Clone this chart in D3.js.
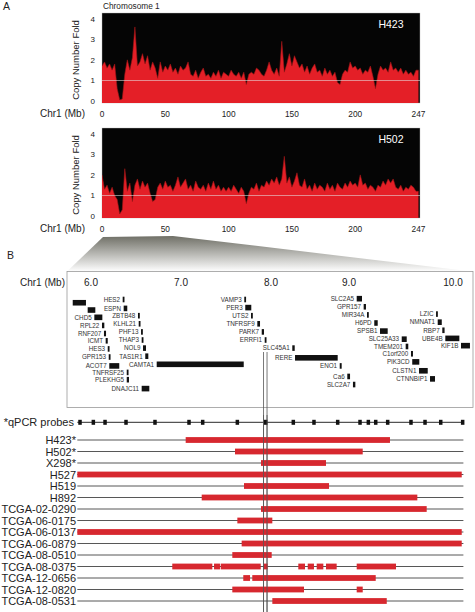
<!DOCTYPE html>
<html><head><meta charset="utf-8">
<script src="https://cdn.jsdelivr.net/npm/d3@7"></script>
<style>body{margin:0;background:#fff;} svg{display:block;font-family:Arial,"Liberation Sans",sans-serif;}</style>
</head><body><svg id="c" width="475" height="612"></svg>
<script>
// ---------- data ----------
const chrTicks = [0, 50, 100, 150, 200, 250];
const chrTickLabels = ["0", "50", "100", "150", "200", "247"];
const cnTicks = [0, 1, 2, 3, 4];
const chrStepMb = 2;
const h423 = [1.7,1.9,1.6,1.8,1.5,1.8,0.6,0.05,0.1,1.3,2.0,1.5,2.1,3.6,1.7,1.9,2.3,1.8,2.2,1.5,1.9,1.6,1.1,1.9,1.4,1.7,1.5,1.8,1.4,1.6,1.3,1.7,1.5,1.6,1.9,1.3,1.2,1.5,1.1,1.4,1.6,1.2,1.3,1.1,1.4,1.2,1.5,1.1,1.4,1.3,1.2,1.5,1.3,1.2,1.4,1.1,1.4,0.8,1.3,1.4,1.3,1.6,1.5,1.3,1.2,1.5,1.9,1.5,1.3,1.6,1.2,2.9,1.4,1.8,2.3,1.7,2.2,1.9,1.6,1.8,1.4,1.7,1.3,1.6,1.8,1.4,1.5,1.2,1.6,1.3,1.5,1.2,1.4,0.9,0.8,1.3,1.5,1.4,1.9,1.6,1.7,1.5,1.6,1.3,1.5,1.4,1.7,1.2,0.6,1.3,1.7,1.5,1.6,1.4,1.9,1.5,1.6,1.4,1.6,1.3,1.5,1.3,1.4,1.2,1.5,1.5];
const h502 = [2.0,1.3,1.5,1.1,1.4,1.0,0.8,0.1,0.3,2.3,1.2,1.6,0.7,1.5,1.8,1.3,1.7,1.4,1.6,1.1,0.7,0.8,1.4,1.6,1.3,1.7,1.4,1.5,1.2,1.5,1.9,1.4,1.6,1.8,1.3,1.5,1.2,1.7,1.4,1.3,1.5,1.2,1.6,1.3,1.7,1.3,1.5,1.2,1.4,1.2,1.4,1.2,1.5,1.3,1.1,1.4,1.2,0.6,1.1,1.4,1.3,1.6,1.2,1.5,1.4,1.7,1.5,1.8,1.6,1.9,1.5,1.8,2.9,1.6,1.9,1.4,1.7,2.1,1.5,1.4,1.8,1.3,1.5,1.2,1.6,1.3,1.5,1.4,1.2,1.6,1.3,1.5,1.2,1.6,1.4,1.3,1.6,1.4,1.7,1.5,1.6,1.4,2.0,1.5,1.6,1.3,1.5,1.4,1.2,1.5,1.4,1.7,1.5,1.8,1.6,1.8,1.4,1.3,1.5,1.2,1.4,1.3,1.5,1.4,1.2,1.2];
const cellLines = ["H423", "H502"];

const regionTicks = [6, 7, 8, 9, 10];
const regionTickLabels = ["6.0", "7.0", "8.0", "9.0", "10.0"];
const geneNames = ["","","CHD5","RPL22","RNF207","ICMT","HES3","GPR153","ACOT7","TNFRSF25","PLEKHG5","DNAJC11",
  "HES2","ESPN","ZBTB48","KLHL21","PHF13","THAP3","NOL9","TAS1R1","CAMTA1",
  "VAMP3","PER3","UTS2","TNFRSF9","PARK7","ERRFI1","SLC45A1","RERE","ENO1","Ca6","SLC2A7",
  "SLC2A5","GPR157","MIR34A","H6PD","SPSB1","SLC25A33","TMEM201","C1orf200","PIK3CD","CLSTN1","CTNNBIP1",
  "LZIC","NMNAT1","RBP7","UBE4B","KIF1B"];
const geneStart = [5.797,5.963,6.037,6.122,6.144,6.163,6.186,6.197,6.203,6.397,6.397,6.563,
  6.352,6.363,6.522,6.530,6.556,6.563,6.578,6.603,6.730,
  7.703,7.714,7.778,7.848,7.897,7.930,8.273,8.308,8.881,8.978,9.038,
  9.074,9.141,9.173,9.243,9.298,9.507,9.545,9.596,9.608,9.673,9.779,
  9.837,9.853,9.897,9.926,10.077];
const geneEnd = [5.944,6.048,6.126,6.148,6.167,6.186,6.203,6.214,6.314,6.414,6.422,6.648,
  6.370,6.403,6.541,6.548,6.574,6.581,6.611,6.637,7.697,
  7.722,7.781,7.797,7.878,7.922,7.948,8.304,8.855,8.906,9.010,9.061,
  9.125,9.163,9.189,9.276,9.372,9.555,9.570,9.615,9.676,9.757,9.827,
  9.853,9.892,9.919,10.061,10.163];
const geneLane = [0.4,1.3,2.2,3.2,4.2,5.1,6.1,7.1,8.2,9.0,9.9,11.0,
  0,1.1,2,3,4,5,6,7,8,
  0,1,2,3,4,5,6,7.2,8.2,9.5,10.5,
  -0.1,0.9,1.9,2.9,3.9,4.9,5.8,6.7,7.7,8.8,9.8,
  1.8,2.8,3.8,4.8,5.7];

const probeLabel = "*qPCR probes";
const probes = [5.878,6.026,6.156,6.389,6.711,7.089,7.241,7.626,7.941,8.286,8.551,8.855,9.106,9.186,9.257,9.372,9.596,9.731,9.882,10.093];
const regionStart = 5.848, regionEnd = 10.1;
const focusLines = [7.917, 7.956];
const samples = ["H423*","H502*","X298*","H527","H519","H892","TCGA-02-0290","TCGA-06-0175","TCGA-06-0137","TCGA-06-0879","TCGA-08-0510","TCGA-08-0375","TCGA-12-0656","TCGA-12-0820","TCGA-08-0531"];
const gainSegments = [
  [[7.052,9.394]],
  [[7.600,9.132]],
  [[7.889,8.705]],
  [[5.848,10.084]],
  [[7.700,8.744]],
  [[7.230,9.657]],
  [[7.889,9.747]],
  [[7.626,8.017]],
  [[5.848,10.084]],
  [[7.674,10.084]],
  [[7.570,8.009]],
  [[6.903,7.348],[7.367,7.433],[7.441,7.886],[7.922,7.963],[8.350,8.436],[8.471,8.551],[8.586,8.671],[8.705,8.842],[9.074,9.452]],
  [[7.692,7.767],[7.792,9.257]],
  [[7.570,8.423],[9.074,9.132]],
  [[8.017,9.363]]
];

// ---------- drawing ----------
const svg = d3.select("#c");
const txt = "#222";

// Panel labels
svg.append("text").attr("x", 3).attr("y", 9.5).attr("font-size", 10.5).attr("fill", txt).text("A");
svg.append("text").attr("x", 7).attr("y", 258.5).attr("font-size", 10.5).attr("fill", txt).text("B");
svg.append("text").attr("x", 103).attr("y", 8.5).attr("font-size", 8.3).attr("fill", txt).text("Chromosome 1");

// gradient for zoom wedge
const defs = svg.append("defs");
const grad = defs.append("linearGradient").attr("id", "wedge").attr("x1", 0).attr("y1", 0).attr("x2", 0).attr("y2", 1);
grad.append("stop").attr("offset", "0%").attr("stop-color", "#6f6f66");
grad.append("stop").attr("offset", "100%").attr("stop-color", "#ffffff");

const x = d3.scaleLinear().domain([0, 250]).range([102, 418.5]);
const plotL = 102, plotR = 420, plotH = 90;
const panelTops = [13, 128];
const profiles = [h423, h502];

profiles.forEach((vals, k) => {
  const top = panelTops[k];
  const y = d3.scaleLinear().domain([0, 4]).range([top + 88, top + 5.7]);
  const clipId = "clip" + k;
  defs.append("clipPath").attr("id", clipId).append("rect")
    .attr("x", plotL).attr("y", top).attr("width", plotR - plotL).attr("height", plotH);
  svg.append("rect").attr("x", plotL).attr("y", top).attr("width", plotR - plotL).attr("height", plotH)
    .attr("fill", "#050505").attr("stroke", "#bbb").attr("stroke-width", 0.4);
  const g = svg.append("g").attr("clip-path", `url(#${clipId})`);
  const area = d3.area().x((d, i) => x(i * chrStepMb)).y0(top + plotH + 2).y1(d => y(d));
  const line = d3.line().x((d, i) => x(i * chrStepMb)).y(d => y(d));
  g.append("path").datum(vals).attr("d", area).attr("fill", "#e41f27");
  g.append("path").datum(vals).attr("d", line).attr("fill", "none").attr("stroke", "#9c1515").attr("stroke-width", 0.6);
  g.append("line").attr("x1", plotL).attr("x2", plotR).attr("y1", y(1)).attr("y2", y(1))
    .attr("stroke", "#e6e6e6").attr("stroke-width", 0.7).attr("opacity", 0.85);
  // y ticks
  svg.append("g").selectAll("text").data(cnTicks).join("text")
    .attr("x", 95).attr("y", d => y(d) + 3).attr("text-anchor", "end")
    .attr("font-size", 8).attr("fill", txt).text(d => d);
  // y label
  svg.append("text").attr("transform", `translate(79,${top + 47}) rotate(-90)`)
    .attr("text-anchor", "middle").attr("font-size", 9.5).attr("fill", txt).text("Copy Number Fold");
  // x ticks
  svg.append("g").selectAll("text").data(chrTicks).join("text")
    .attr("x", d => x(d)).attr("y", top + 103.5).attr("text-anchor", "middle")
    .attr("font-size", 8.3).attr("fill", txt).text((d, i) => chrTickLabels[i]);
  svg.append("text").attr("x", 85).attr("y", top + 103.5).attr("text-anchor", "end")
    .attr("font-size", 10).attr("fill", txt).text("Chr1 (Mb)");
  // cell line name
  svg.append("text").attr("x", 391).attr("y", top + 14.5).attr("text-anchor", "middle")
    .attr("font-size", 10.5).attr("fill", "#fff").text(cellLines[k]);
});

// zoom wedge
svg.append("path").attr("d", "M103,237 L173,236 L472,271.5 L67,271.5 Z").attr("fill", "url(#wedge)");

// Box B
svg.append("rect").attr("x", 67).attr("y", 271.5).attr("width", 406).attr("height", 136)
  .attr("fill", "none").attr("stroke", "#9a9a9a").attr("stroke-width", 0.8);

const rx = d3.scaleLinear().domain([6, 7, 8, 9, 10]).range([91, 181, 271, 349, 453]);
svg.append("g").selectAll("text").data(regionTicks).join("text")
  .attr("x", d => rx(d)).attr("y", 286).attr("text-anchor", "middle")
  .attr("font-size", 10).attr("fill", txt).text((d, i) => regionTickLabels[i]);
svg.append("text").attr("x", 65).attr("y", 286).attr("text-anchor", "end")
  .attr("font-size", 10).attr("fill", txt).text("Chr1 (Mb)");

const laneY = d3.scaleLinear().domain([0, 11]).range([299.5, 388.6]);
const genes = geneNames.map((n, i) => ({ n, s: geneStart[i], e: geneEnd[i], l: geneLane[i] }));
const gg = svg.append("g");
gg.selectAll("rect").data(genes).join("rect")
  .attr("x", d => rx(d.s)).attr("y", d => laneY(d.l) - 2.8)
  .attr("width", d => Math.max(1.8, rx(d.e) - rx(d.s))).attr("height", 5.6)
  .attr("fill", "#111");
gg.selectAll("text").data(genes.filter(d => d.n)).join("text")
  .attr("x", d => rx(d.s) - 2.6).attr("y", d => laneY(d.l) + 2.3)
  .attr("text-anchor", "end").attr("font-size", 6.3).attr("fill", "#333").text(d => d.n);

// focus lines
svg.append("g").selectAll("line").data(focusLines).join("line")
  .attr("x1", d => rx(d)).attr("x2", d => rx(d)).attr("y1", 352).attr("y2", 612)
  .attr("stroke", "#555").attr("stroke-width", 0.8);

// probe row
const probeY = 422.3;
svg.append("text").attr("x", 74).attr("y", probeY + 4).attr("text-anchor", "end")
  .attr("font-size", 11).attr("fill", txt).text(probeLabel);
svg.append("line").attr("x1", rx(regionStart)).attr("x2", rx(regionEnd)).attr("y1", probeY).attr("y2", probeY)
  .attr("stroke", "#111").attr("stroke-width", 0.9);
svg.append("g").selectAll("rect").data(probes).join("rect")
  .attr("x", d => rx(d) - 1.75).attr("y", probeY - 2.5).attr("width", 3.5).attr("height", 5).attr("fill", "#111");

// samples
const sy = d3.scaleLinear().domain([0, 14]).range([440, 601]);
samples.forEach((s, i) => {
  const yy = sy(i);
  svg.append("text").attr("x", 76).attr("y", yy + 4).attr("text-anchor", "end")
    .attr("font-size", 11).attr("fill", txt).text(s);
  svg.append("line").attr("x1", rx(regionStart)).attr("x2", rx(regionEnd)).attr("y1", yy).attr("y2", yy)
    .attr("stroke", "#444").attr("stroke-width", 0.9);
  svg.append("g").selectAll("rect").data(gainSegments[i]).join("rect")
    .attr("x", d => rx(d[0])).attr("y", yy - 2.9).attr("width", d => rx(d[1]) - rx(d[0])).attr("height", 5.8)
    .attr("fill", "#d7282f");
});
// redraw focus lines on top of bars
svg.append("g").selectAll("line").data(focusLines).join("line")
  .attr("x1", d => rx(d)).attr("x2", d => rx(d)).attr("y1", 415).attr("y2", 612)
  .attr("stroke", "#555").attr("stroke-width", 0.8);
</script></body></html>
